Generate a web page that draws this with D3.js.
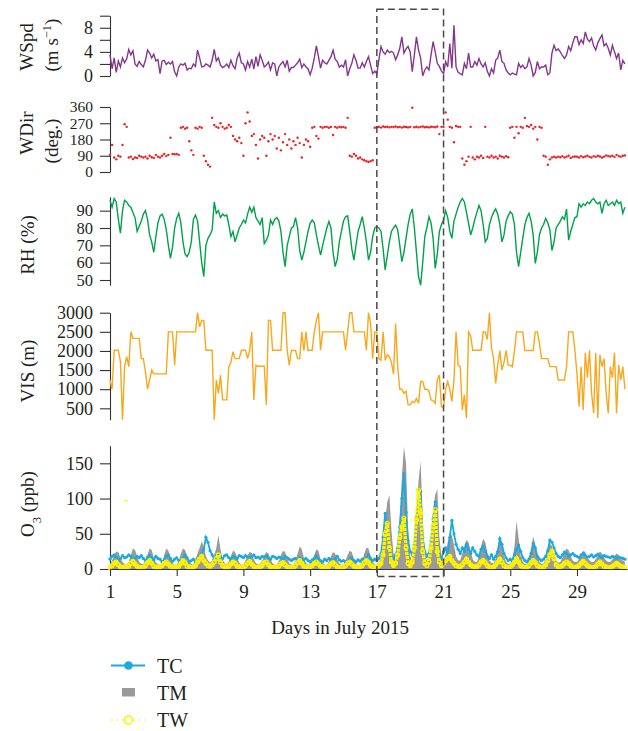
<!DOCTYPE html>
<html><head><meta charset="utf-8">
<script src="https://cdn.jsdelivr.net/npm/d3@7"></script>
<style>
body{margin:0;background:#fff}
svg{display:block}
text{font-family:"Liberation Serif","Times New Roman",serif;fill:#231f20}
</style>
</head><body><svg id="c" width="628" height="731"></svg>
<script>
// ---- data: 3-hourly samples (8 per day) starting 1 July 00:00 ----
const stepsPerDay = 8;
const startDay = 1, endDay = 32;
const xTickValues = [1,5,9,13,17,21,25,29];
const highlight = [17,21];

const wspd = [
3.5,1.2,3.0,0.6,2.5,1.5,3.0,2.2, 2.8,4.4,3.5,4.2,2.0,1.6,2.4,1.9, 1.5,2.6,4.3,3.8,3.0,3.6,2.5,2.7,
0.4,2.5,2.6,1.9,2.3,2.0,2.4,0.7, 0.0,1.5,2.0,1.8,2.1,1.0,1.3,1.2, 2.0,1.6,4.3,3.0,1.5,1.6,2.0,1.8,
1.5,2.6,4.4,2.5,3.0,1.8,1.4,1.6, 2.0,1.4,2.6,1.7,1.2,3.0,3.8,2.2, 2.0,1.0,2.4,1.5,2.8,1.2,3.2,1.6,
3.5,2.6,1.5,1.8,2.3,1.0,2.2,2.0, 0.0,1.5,2.0,2.4,1.5,2.6,0.8,1.4, 1.4,1.8,2.2,2.8,1.4,2.0,1.5,1.2,
0.2,1.3,3.0,5.0,3.2,1.3,2.6,2.2, 2.0,2.6,3.2,4.3,2.8,2.4,1.5,1.8, 1.5,2.7,0.0,1.2,2.1,3.5,2.6,1.3,
1.3,2.2,1.5,2.4,3.2,1.8,0.4,0.8, 0.4,2.7,4.9,4.0,3.6,4.3,3.9,4.1, 3.8,2.7,3.5,4.6,6.5,3.8,4.5,4.9,
4.0,0.7,3.5,6.5,4.3,3.0,0.0,1.0, 1.5,1.0,3.5,5.7,4.0,2.1,1.6,0.8, 0.4,2.4,1.5,5.4,1.3,8.4,1.5,0.6,
0.4,0.2,2.1,1.2,3.8,1.5,1.5,2.4, 1.8,2.9,2.0,1.5,2.2,0.8,0.0,1.2, 0.5,2.6,3.0,4.3,2.4,2.1,1.0,0.5,
0.2,0.5,0.3,0.2,2.1,1.4,1.8,1.2, 1.5,2.9,1.8,0.0,0.6,2.4,1.2,1.5, 1.5,1.8,0.2,0.5,3.8,5.1,4.2,4.5,
4.0,3.4,2.9,3.5,4.9,4.2,5.5,6.5, 6.5,5.2,6.0,5.4,7.3,6.1,5.7,6.3, 5.0,4.3,5.5,6.2,6.8,5.0,5.4,4.6,
3.5,5.1,4.0,2.9,3.8,1.0,2.6,2.0];

const wdir = [
95,150,80,70,90,85,150,265, 250,80,85,72,80,78,90,85, 80,85,75,90,82,78,95,85,
80,90,100,88,95,190,100,98, 100,95,245,250,240,245,170,120, 95,245,240,250,245,90,60,40,
30,300,260,250,245,270,250,240, 245,260,250,200,180,170,190,160, 90,270,330,280,200,210,150,75,
180,200,190,90,170,210,180,200, 130,190,120,165,210,150,180,130, 170,150,190,160,80,150,180,170,
140,245,250,200,185,250,245,250, 250,245,250,205,250,245,250,248, 250,245,300,90,85,100,90,75,
80,70,65,60,55,60,65,245, 248,250,246,252,249,251,247,250, 249,252,248,250,246,251,249,247,
250,356,248,251,247,250,252,248, 249,247,251,250,248,252,210,250, 250,330,290,250,245,165,255,250,
250,75,40,60,85,250,80,70, 85,80,90,78,250,85,80,90, 80,85,75,90,85,80,88,82,
245,250,190,250,215,250,245,300, 255,250,260,240,250,180,250,245, 90,85,40,70,80,85,80,85,
82,88,80,85,90,78,84,86, 85,80,88,82,86,90,84,80, 88,84,90,86,80,85,92,88,
86,90,84,95,88,85,90,92];

const rh = [
96,92,97,95,85,77,90,96, 95,93,92,89,86,78,81,84, 88,90,85,76,72,66,75,83,
87,88,85,79,70,62.5,69,80, 85.6,88.5,83,72,65,63.5,66,72, 85,87.5,84,72,60,52,70,74,
76,79,95,88.5,90,86,88,87, 87.5,82,75,78,72,76,80,82, 84.6,83,88,92,89,92,86,84,
82,86,71,73,76,84.6,82,85, 86,84,78,66,57.7,70,75,80, 80.8,86,80,67,61.5,66,72,78,
82.7,84.6,83,76,70,64.4,70,75, 80,83.7,80,66,57.7,62,72,78, 84,86.5,87,78,68,61.5,70,78,
82,86.5,80,72,61.5,66,75,80, 80.8,80,78,68,55.8,64,72,78, 80,81.7,79,70,60.6,66,74,82,
88,91,80,66,52,47,60,75, 80,86.5,83,74,56.7,65,78,82, 84.6,90,86,78,74,84,88,92,
95,97,95,89,82.7,76,80,85, 89,93,90,82,72,74,82,86, 89,91,88,82,72,76,84,87,
89.4,88,82,66,57.7,66,74,82, 86,88.5,84,76,59.6,66,76,80, 82,85.6,83,79,67,72,80,82,
84,86.5,85,91,73,78,82,86, 86.5,94,92,94,93,95,94,96, 97,95,94,95,88.5,94,96,93,
94,95,93,96,94,95,88.5,92];

const vis = [
1240,1000,2020,2020,2020,1720,200,1590, 1850,1590,2500,2330,2330,2330,2330,1800, 1800,1460,1000,1240,1500,1400,1400,1400,
1400,1400,1400,1400,2500,2500,2500,1630, 2500,2500,2500,2500,2500,2500,2500,2500, 2500,2500,3000,2630,2800,2800,2020,2020,
2020,2020,200,1240,890,1370,720,720, 720,1590,1700,1980,1800,1800,1800,2020, 2020,2020,1800,2020,2500,720,1630,1600,
1600,1600,1600,590,2800,2800,2020,2020, 2020,2020,2020,3000,3000,2020,1630,2010, 2010,2010,1800,1800,2500,2010,2500,2010,
2020,2020,2500,2800,3000,2020,2500,2500, 2500,2500,2500,2500,2500,2500,2500,2500, 2500,2020,2500,3000,3000,2500,2500,2500,
2500,2500,2500,2020,3000,2720,1800,2500, 2500,1800,1760,2500,1760,1900,1850,1700, 1400,2720,1590,1000,1000,890,950,590,
590,680,650,760,630,1200,1200,1000, 1000,950,720,700,630,1240,1370,540, 540,1000,1200,1000,680,1240,2500,1630,
1590,460,850,240,2500,2400,2020,2020, 2020,2020,2020,2500,2500,2300,3000,2070, 1800,1150,1630,2010,1500,1700,2010,1630,
1630,1590,2000,2500,2500,2500,2500,2010, 2010,2010,2010,2010,2500,2500,2200,1800, 1800,1800,1800,1590,1590,1590,1590,1240,
1240,1240,1240,1590,2500,2500,2500,2020, 1400,540,1590,460,1950,1300,2020,900, 370,1950,240,1900,1590,1800,900,370,
1590,1300,1950,370,1630,1240,1590,1000];

const o3TC = [
14,18,20,17,12,15,19,16, 17,20,18,13,15,18,16,19, 15,12,17,20,16,13,18,15,
14,10,12,18,20,15,11,14, 16,12,8,15,20,16,10,12, 14,10,12,18,22,28,45,38,
26,20,14,18,22,17,15,19, 20,16,14,18,17,15,19,18, 16,19,17,14,18,20,16,17,
15,18,17,19,16,14,18,17, 15,17,16,13,18,16,14,12, 14,15,12,16,14,13,15,12,
10,13,15,19,14,12,10,14, 12,15,13,11,14,18,13,11, 12,10,8,14,16,12,10,13,
11,14,12,16,20,15,12,14, 12,15,22,45,79,55,25,18, 15,20,30,60,100,135,80,40,
25,20,35,75,95,110,45,25, 18,22,40,70,95,35,20,15, 25,30,20,45,69,50,35,28,
22,30,25,35,28,22,30,25, 20,18,28,32,25,18,15,20, 14,18,25,43,35,22,16,12,
14,12,20,28,34,25,16,12, 10,14,22,36,30,18,14,12, 14,18,26,41,38,30,22,18,
16,20,24,22,18,20,22,19, 18,16,20,22,19,17,18,20, 17,19,21,18,16,19,18,17,
16,18,17,15,17,16,15,14];

const o3TM = [
6,12,20,25,24,16,10,7, 6,10,20,29,27,18,10,7, 7,11,20,29,27,16,9,7,
6,10,20,29,26,16,8,6, 6,12,22,29,27,18,10,7, 6,14,22,30,39,32,18,12,
9,12,20,30,48,28,14,8, 6,11,18,26,24,16,9,6, 6,12,20,24,23,14,8,6,
7,12,19,24,22,14,8,6, 6,11,20,26,24,15,8,6, 6,12,22,32,28,16,8,6,
7,12,20,28,26,14,8,6, 6,11,18,24,22,14,8,6, 6,12,20,26,24,14,8,5,
6,12,22,30,29,18,10,6, 6,10,16,35,70,95,105,55, 22,12,30,70,130,174,150,55,
18,12,35,80,125,153,70,18, 12,18,45,85,105,114,45,18, 12,22,38,50,48,34,18,12,
12,22,33,41,38,26,14,10, 10,18,32,43,38,24,12,9, 8,15,30,43,34,18,10,7,
8,15,32,68,44,18,10,7, 7,14,28,46,35,18,10,7, 8,14,27,36,33,20,12,9,
10,16,24,29,27,18,12,10, 10,14,20,26,24,17,12,10, 10,14,20,25,22,16,12,10,
10,14,18,22,20,14,12,10];

const o3TW = [
2,5,8,10,6,3,2,3, 2,4,8,11,7,4,2,2, 2,5,9,12,8,4,2,3,
3,5,8,10,7,4,3,2, 2,4,8,12,9,4,3,2, 3,5,10,14,18,12,8,5,
4,6,10,15,20,10,5,3, 2,4,7,10,8,4,3,2, 2,5,8,11,7,4,2,2,
3,5,9,10,6,3,2,3, 2,4,7,9,6,3,2,2, 2,5,9,12,8,4,3,2,
3,5,8,10,7,4,3,2, 2,4,7,9,6,3,2,2, 2,5,8,10,7,4,3,2,
3,5,9,12,9,5,3,2, 3,5,8,20,50,65,30,10, 5,8,20,45,60,72,30,8,
5,10,30,70,112,80,25,8, 5,10,30,60,84,25,10,5, 8,12,15,18,12,8,5,4,
3,6,10,14,10,6,4,3, 3,6,10,12,9,5,3,2, 3,6,10,14,10,5,3,2,
3,6,10,15,10,5,3,2, 3,5,9,12,9,5,3,2, 3,6,12,20,25,15,6,3,
3,5,8,10,8,5,3,2, 3,5,8,11,8,5,3,2, 2,4,7,10,7,4,3,2,
2,4,6,8,6,4,3,2];
const twSpikeDay = [1.96], twSpikeValue = [97];

const legendNames = ["TC","TM","TW"];

// ---- drawing ----
const svg = d3.select("#c");
const col = {wspd:"#84378c", wdir:"#ec2127", rh:"#00a14b", vis:"#f8a81d", tc:"#1ba9e1", tm:"#9a9a9a", tw:"#fff200", axis:"#333"};
const x = d3.scaleLinear().domain([startDay,endDay]).range([110,627]);
const t = i => startDay + i/stepsPerDay;
const FS = 19;

function yAxis(scale, ticks, labels, fs){
  const g = svg.append("g").attr("transform","translate(110,0)")
    .call(d3.axisLeft(scale).tickValues(ticks).tickSize(10).tickSizeOuter(0).tickPadding(7)
      .tickFormat(d => labels.includes(d) ? d : ""));
  g.selectAll("path,line").attr("stroke",col.axis).attr("stroke-width",1.1);
  g.selectAll("text").attr("font-size",fs||18).attr("font-family",'"Liberation Serif",serif').attr("fill","#231f20");
  return g;
}
function title(lines, cy){
  const xs = lines.length===1 ? [34] : [33,58];
  lines.forEach((ln,k)=>{
    const tx = svg.append("text").attr("transform",`translate(${xs[k]},${cy[k]}) rotate(-90)`)
      .attr("text-anchor","middle").attr("font-size",FS);
    ln.forEach(p=>{
      const s = tx.append("tspan").text(p.t);
      if(p.sup){ s.attr("baseline-shift","super").attr("font-size",FS*0.66); }
      if(p.sub){ s.attr("baseline-shift","sub").attr("font-size",FS*0.66); }
    });
  });
}

// WSpd
const yW = d3.scaleLinear().domain([0,10]).range([76,15.7]);
yAxis(yW,[0,2,4,6,8,10],[0,4,8]);
svg.append("path").datum(wspd).attr("fill","none").attr("stroke",col.wspd).attr("stroke-width",1.4)
  .attr("d", d3.line().x((d,i)=>x(t(i))).y(d=>yW(d)));
title([[{t:"WSpd"}],[{t:"(m s"},{t:"−1",sup:true},{t:")"}]],[47,45]);

// WDir
const yD = d3.scaleLinear().domain([0,360]).range([172,107]);
yAxis(yD,[0,90,180,270,360],[0,90,180,270,360],15.5);
svg.append("g").selectAll("circle").data(wdir).join("circle")
  .attr("cx",(d,i)=>x(t(i))).attr("cy",d=>yD(d)).attr("r",1.2).attr("fill",col.wdir);
title([[{t:"WDir"}],[{t:"(deg.)"}]],[133,141]);

// RH
const yR = d3.scaleLinear().domain([47,98]).range([285.2,196.8]);
yAxis(yR,[50,60,70,80,90],[50,60,70,80,90],16.5);
svg.append("path").datum(rh).attr("fill","none").attr("stroke",col.rh).attr("stroke-width",1.4)
  .attr("d", d3.line().x((d,i)=>x(t(i))).y(d=>yR(d)));
title([[{t:"RH (%)"}]],[245]);

// VIS
const yV = d3.scaleLinear().domain([200,3000]).range([419.8,312.7]);
yAxis(yV,[500,1000,1500,2000,2500,3000],[500,1000,1500,2000,2500,3000],18);
svg.append("path").datum(vis).attr("fill","none").attr("stroke",col.vis).attr("stroke-width",1.4)
  .attr("d", d3.line().x((d,i)=>x(t(i))).y(d=>yV(d)));
title([[{t:"VIS (m)"}]],[371]);

// O3
const yO = d3.scaleLinear().domain([0,175]).range([569,445.7]);
yAxis(yO,[0,50,100,150],[0,50,100,150]);
svg.append("path").datum(o3TM).attr("fill",col.tm).attr("stroke","none")
  .attr("d", d3.area().x((d,i)=>x(t(i))).y0(yO(0)).y1(d=>yO(d)));
svg.append("path").datum(o3TC).attr("fill","none").attr("stroke",col.tc).attr("stroke-width",1.8)
  .attr("d", d3.line().x((d,i)=>x(t(i))).y(d=>yO(d)));
svg.append("g").selectAll("circle").data(o3TC).join("circle")
  .attr("cx",(d,i)=>x(t(i))).attr("cy",d=>yO(d)).attr("r",1.6).attr("fill",col.tc);
svg.append("path").datum(o3TW).attr("fill","none").attr("stroke",col.tw).attr("stroke-width",3.4)
  .attr("stroke-dasharray","3,1")
  .attr("d", d3.line().x((d,i)=>x(t(i))).y(d=>yO(d)));
svg.append("g").selectAll("circle").data(o3TW).join("circle")
  .attr("cx",(d,i)=>x(t(i))).attr("cy",d=>yO(d)).attr("r",1.9).attr("fill","none")
  .attr("stroke",col.tw).attr("stroke-width",1.3);
svg.append("g").selectAll("rect").data(twSpikeDay).join("rect")
  .attr("x",d=>x(d)-1.5).attr("y",(d,i)=>yO(twSpikeValue[i])-0.8).attr("width",3).attr("height",1.6).attr("fill",col.tw);
title([[{t:"O"},{t:"3",sub:true},{t:" (ppb)"}]],[504]);

// x axis
const gx = svg.append("g").attr("transform",`translate(0,${yO(0)})`)
  .call(d3.axisBottom(x).tickValues(xTickValues).tickSize(7).tickSizeOuter(0).tickPadding(9).tickFormat(d3.format("d")));
gx.selectAll("path,line").attr("stroke",col.axis).attr("stroke-width",1.1);
gx.selectAll("text").attr("font-size",19).attr("font-family",'"Liberation Serif",serif').attr("fill","#231f20");
svg.append("text").attr("x",340).attr("y",634).attr("text-anchor","middle").attr("font-size",FS).text("Days in July 2015");

// highlight rectangle
svg.append("rect").attr("x",x(highlight[0])).attr("y",9.3).attr("width",x(highlight[1])-x(highlight[0])).attr("height",576.5-9.3)
  .attr("fill","none").attr("stroke","#4a4a4a").attr("stroke-width",1.5).attr("stroke-dasharray","7,4");

// legend
const lg = svg.append("g");
const rowY = [665.5,692.5,720];
lg.append("line").attr("x1",111).attr("x2",145).attr("y1",rowY[0]).attr("y2",rowY[0]).attr("stroke",col.tc).attr("stroke-width",2);
lg.append("circle").attr("cx",128.5).attr("cy",rowY[0]).attr("r",4.3).attr("fill",col.tc);
lg.append("rect").attr("x",122).attr("y",rowY[1]-4.5).attr("width",13).attr("height",8.5).attr("fill",col.tm);
lg.append("line").attr("x1",111).attr("x2",145).attr("y1",rowY[2]).attr("y2",rowY[2]).attr("stroke",col.tw).attr("stroke-width",1.6).attr("stroke-dasharray","1.5,4");
lg.append("circle").attr("cx",128.5).attr("cy",rowY[2]).attr("r",4).attr("fill","#fff").attr("stroke",col.tw).attr("stroke-width",1.6);
lg.selectAll("text.l").data(legendNames).join("text").attr("class","l")
  .attr("x",157).attr("y",(d,i)=>rowY[i]+7).attr("font-size",20).text(d=>d);
</script></body></html>
